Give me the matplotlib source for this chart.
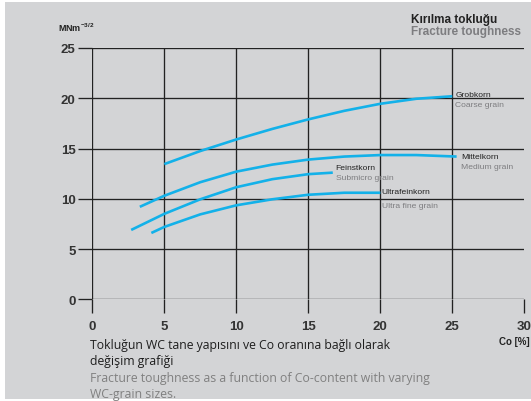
#! /usr/bin/env python3

import matplotlib
matplotlib.use('Agg')
import matplotlib.pyplot as plt
from matplotlib.patches import Rectangle

# Co content [%] vs fracture toughness [MNm^-3/2]
grob_co = [5, 7.5, 10, 12.5, 15, 17.5, 20, 22.5, 25]
grob_k = [13.45, 14.75, 15.9, 16.95, 17.9, 18.75, 19.45, 19.95, 20.2]

mittel_co = [3.3, 5, 7.5, 10, 12.5, 15, 17.5, 20, 22.5, 25.3]
mittel_k = [9.2, 10.3, 11.65, 12.7, 13.4, 13.9, 14.2, 14.35, 14.35, 14.2]

feinst_co = [2.7, 5, 7.5, 10, 12.5, 15, 16.7]
feinst_k = [6.9, 8.5, 9.95, 11.15, 11.95, 12.45, 12.6]

ultra_co = [4.1, 5, 7.5, 10, 12.5, 15, 17.5, 20]
ultra_k = [6.6, 7.2, 8.45, 9.35, 9.95, 10.4, 10.6, 10.6]

x_ticks = [0, 5, 10, 15, 20, 25, 30]
y_ticks = [0, 5, 10, 15, 20, 25]

BG = '#d3d4d6'
LINE = '#13b1e9'
DARK = '#222222'
GREY = '#7d7d80'

fig = plt.figure(figsize=(5.31, 4.02), dpi=100)
fig.patch.set_facecolor('white')
fig.patches.append(Rectangle((5 / 531, 2 / 402), 1, 397 / 402,
                             transform=fig.transFigure, facecolor=BG,
                             edgecolor='none', zorder=-10))

ax = fig.add_axes([92.3 / 531, 101.7 / 402, 432 / 531, 251.3 / 402])
ax.set_facecolor('none')
ax.set_xlim(0, 30)
ax.set_ylim(0, 25)
for s in ax.spines.values():
    s.set_visible(False)

for y in y_ticks:
    ax.axhline(y, color=DARK, lw=0.95, zorder=1)
for x in x_ticks[:-1]:
    ax.axvline(x, color=DARK, lw=0.95, zorder=1)

ax.set_xticks(x_ticks)
ax.set_yticks(y_ticks)
ax.tick_params(length=10, width=0.95, color=DARK, labelcolor='#333333')
ax.tick_params(axis='y', pad=2)
ax.tick_params(axis='x', pad=5)
for lab in ax.get_xticklabels() + ax.get_yticklabels():
    lab.set_fontfamily('Liberation Sans')
    lab.set_fontweight('bold')
    lab.set_fontsize(9.5)

for co, k in [(grob_co, grob_k), (mittel_co, mittel_k),
              (feinst_co, feinst_k), (ultra_co, ultra_k)]:
    ax.plot(co, k, color=LINE, lw=1.9, solid_capstyle='butt', zorder=3)

small = dict(fontsize=6.1, fontfamily='Liberation Sans', zorder=4)
ax.text(25.2, 20.4, 'Grobkorn', color=DARK, va='center', **small)
ax.text(25.2, 19.4, 'Coarse grain', color=GREY, va='center', **small)
ax.text(25.6, 14.2, 'Mittelkorn', color=DARK, va='center', **small)
ax.text(25.6, 13.2, 'Medium grain', color=GREY, va='center', **small)
ax.text(16.9, 13.1, 'Feinstkorn', color=DARK, va='center', **small)
ax.text(16.9, 12.1, 'Submicro grain', color=GREY, va='center', **small)
ax.text(20.1, 10.7, 'Ultrafeinkorn', color=DARK, va='center', **small)
ax.text(20.1, 9.35, 'Ultra fine grain', color=GREY, va='center', **small)

fig.text(58 / 531, 1 - 28 / 402, r'MNm$^{\mathregular{-3/2}}$', color=DARK,
         fontsize=6.5, fontweight='bold', fontfamily='Liberation Sans',
         va='center')
fig.text(411 / 531, 1 - 20 / 402, 'Kırılma tokluğu', color=DARK,
         fontsize=8.45, fontweight='bold', fontfamily='Liberation Sans',
         ha='left', va='center')
fig.text(411 / 531, 1 - 32 / 402, 'Fracture toughness', color=GREY,
         fontsize=8.45, fontweight='bold', fontfamily='Liberation Sans',
         ha='left', va='center')
fig.text(530 / 531, 1 - 342 / 402, 'Co [%]', color=DARK,
         fontsize=7, fontweight='bold', fontfamily='Liberation Sans',
         ha='right', va='center')

cap = dict(fontsize=8.8, fontfamily='Open Sans', va='center')
fig.text(90 / 531, 1 - 346 / 402,
         'Tokluğun WC tane yapısını ve Co oranına bağlı olarak',
         color='#1e1e1e', **cap)
fig.text(90 / 531, 1 - 362 / 402, 'değişim grafiği', color='#1e1e1e', **cap)
fig.text(90 / 531, 1 - 379 / 402,
         'Fracture toughness as a function of Co-content with varying',
         color='#808080', **cap)
fig.text(90 / 531, 1 - 395 / 402, 'WC-grain sizes.', color='#808080', **cap)

fig.savefig('out.png', dpi=100, facecolor=fig.get_facecolor())
